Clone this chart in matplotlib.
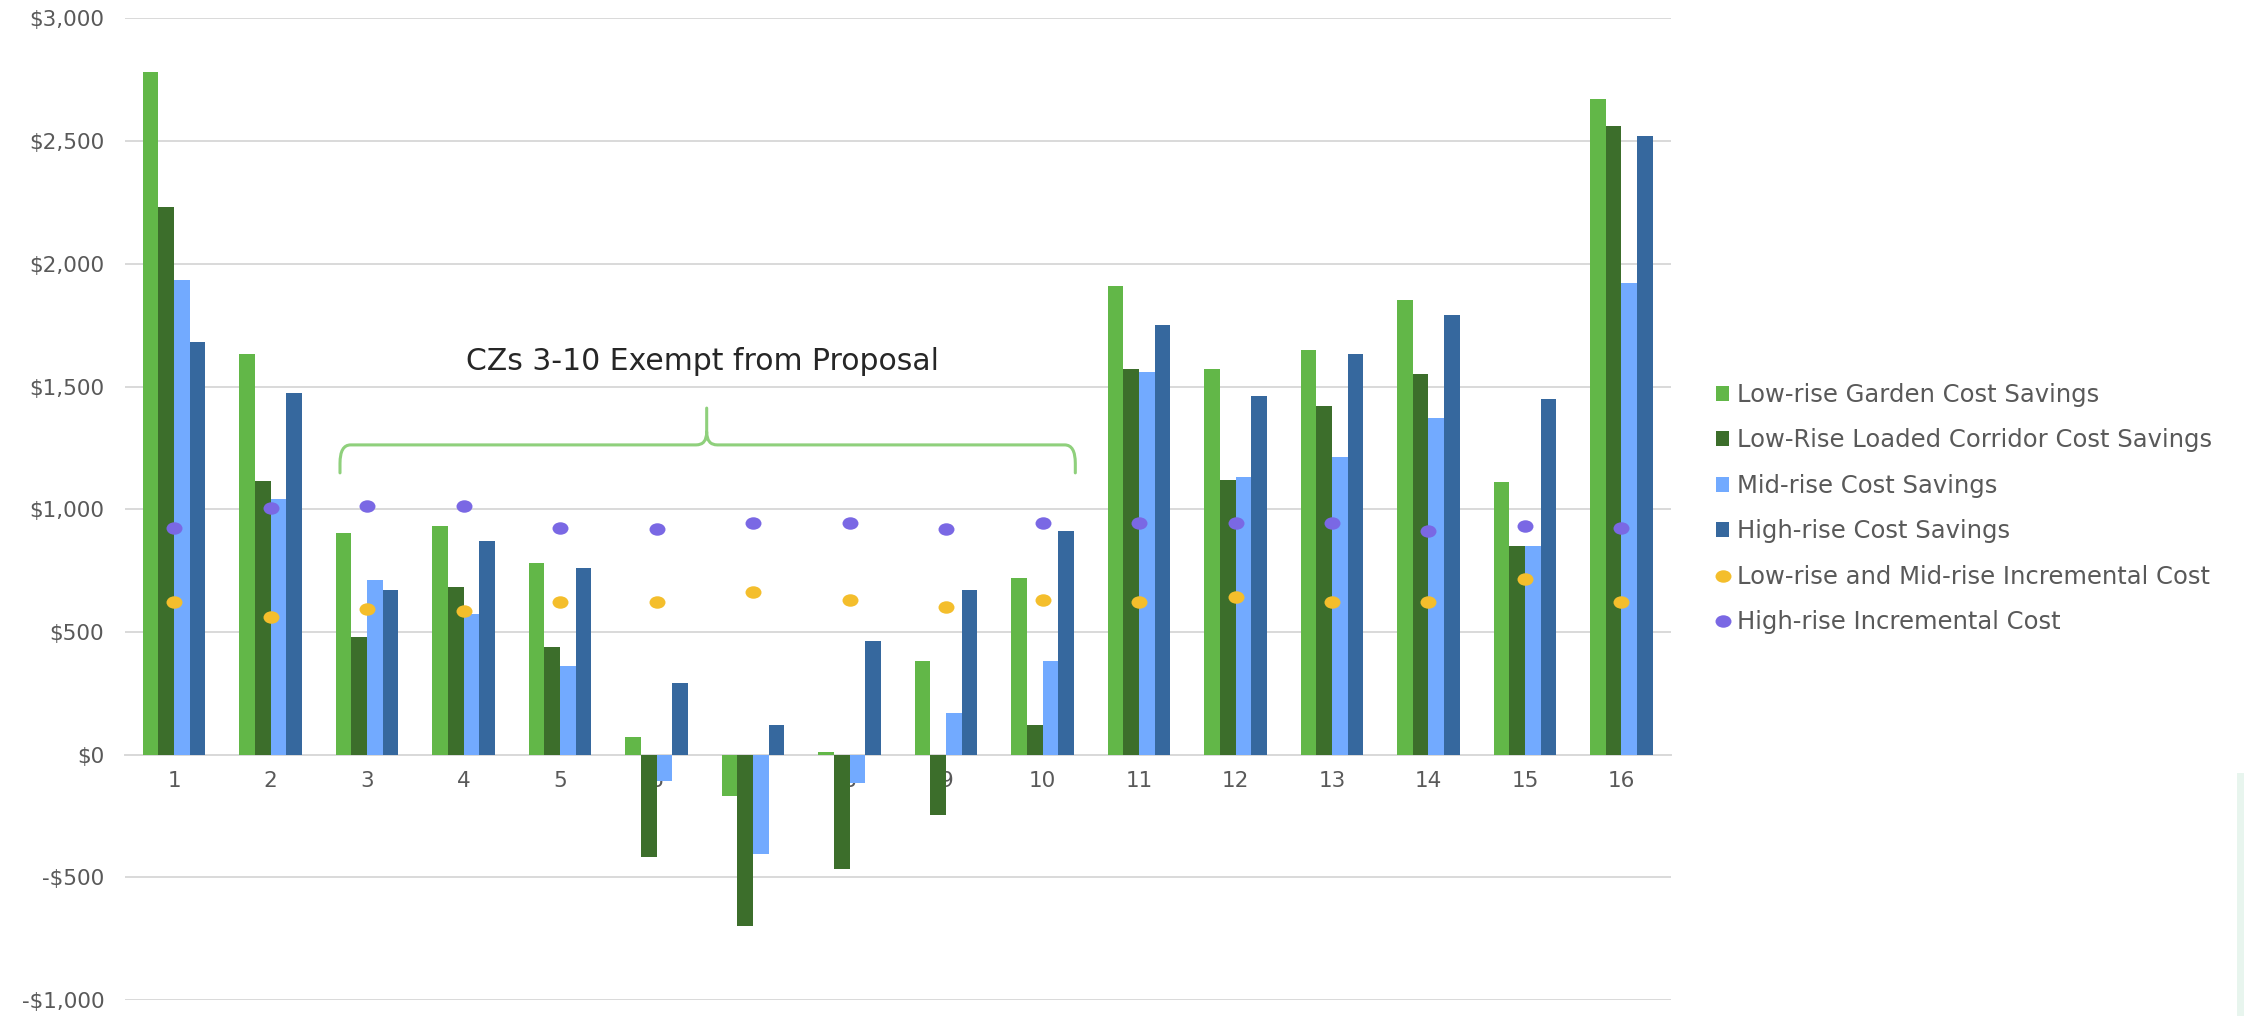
import matplotlib
matplotlib.use("Agg")
import matplotlib.pyplot as plt
import numpy as np
from matplotlib.patches import Patch, PathPatch, Rectangle
from matplotlib.lines import Line2D
from matplotlib.path import Path

# ---------------- data ----------------
climate_zones = ["1", "2", "3", "4", "5", "6", "7", "8", "9", "10", "11", "12", "13", "14", "15", "16"]
lowrise_garden = [2780, 1632, 902, 932, 780, 72, -167, 11, 382, 720, 1909, 1571, 1650, 1851, 1111, 2670]
lowrise_corridor = [2232, 1113, 480, 681, 440, -418, -699, -467, -248, 121, 1571, 1121, 1421, 1551, 851, 2560]
midrise = [1932, 1042, 711, 572, 361, -107, -407, -117, 170, 382, 1561, 1131, 1212, 1372, 851, 1920]
highrise = [1682, 1472, 671, 872, 762, 292, 121, 461, 671, 912, 1751, 1461, 1632, 1792, 1451, 2522]
low_mid_incremental = [622, 561, 594, 584, 622, 621, 662, 631, 602, 631, 622, 643, 622, 622, 714, 622]
high_incremental = [922, 1003, 1013, 1013, 922, 921, 942, 942, 921, 942, 943, 943, 943, 912, 932, 922]

bar_series = [
    ("Low-rise Garden Cost Savings", lowrise_garden, "#62B748"),
    ("Low-Rise Loaded Corridor Cost Savings", lowrise_corridor, "#3C6E2B"),
    ("Mid-rise Cost Savings", midrise, "#72AAFF"),
    ("High-rise Cost Savings", highrise, "#36689E"),
]
dot_series = [
    ("Low-rise and Mid-rise Incremental Cost", low_mid_incremental, "#F4BE2C"),
    ("High-rise Incremental Cost", high_incremental, "#7A68E4"),
]
y_ticks = [-1000, -500, 0, 500, 1000, 1500, 2000, 2500, 3000]
annotation_text = "CZs 3-10 Exempt from Proposal"

# ---------------- figure ----------------
W, H = 2244, 1016
fig = plt.figure(figsize=(W / 100, H / 100), dpi=100)
fig.patch.set_facecolor("white")
ax = fig.add_axes([125 / W, 1 - 1000 / H, (1671 - 125) / W, (1000 - 18.4) / H])

x = np.arange(len(climate_zones))
bw = 0.163
for k, (label, vals, col) in enumerate(bar_series):
    ax.bar(x + (k - 1.5) * bw, vals, width=bw, color=col, label=label, zorder=2, linewidth=0)

# elliptical dot marker (slightly wider than tall, as in reference)
circ = Path.unit_circle()
ell = Path(circ.vertices * np.array([1.0, 0.78]), circ.codes)
for label, vals, col in dot_series:
    ax.plot(x, vals, linestyle="none", marker=ell, markersize=11.5, color=col,
            markeredgewidth=0, zorder=3, label=label)

ax.set_xlim(-0.508, 15.513)
ax.set_ylim(-1000, 3000)
ax.set_yticks(y_ticks)
ax.set_yticklabels([("-$" if v < 0 else "$") + f"{abs(v):,}" for v in y_ticks])
ax.set_xticks(x)
ax.set_xticklabels(climate_zones)
for s in ["top", "right", "left"]:
    ax.spines[s].set_visible(False)
ax.spines["bottom"].set_position(("data", 0))
ax.spines["bottom"].set_color("#D9D9D9")
ax.spines["bottom"].set_linewidth(1.4)
ax.spines["bottom"].set_zorder(1.5)
ax.yaxis.grid(True, color="#D9D9D9", linewidth=1.4)
ax.set_axisbelow(True)
ax.tick_params(axis="both", length=0, labelsize=15.5, labelcolor="#595959")
ax.tick_params(axis="y", pad=15)
ax.tick_params(axis="x", pad=12)

# brace annotation
xl, xm, xr = 1.72, 5.52, 9.34
yh, ye, yt = 1262, 1148, 1412
dx, dy = 0.11, 75
verts = [
    (xl, ye), (xl, yh - dy), (xl, yh), (xl + dx, yh),
    (xm - dx, yh), (xm, yh), (xm, yh + dy * 0.7), (xm, yt),
    (xm, yh + dy * 0.7), (xm, yh), (xm + dx, yh),
    (xr - dx, yh), (xr, yh), (xr, yh - dy), (xr, ye),
]
codes = [
    Path.MOVETO, Path.LINETO, Path.CURVE3, Path.CURVE3,
    Path.LINETO, Path.CURVE3, Path.CURVE3, Path.LINETO,
    Path.MOVETO, Path.CURVE3, Path.CURVE3,
    Path.LINETO, Path.CURVE3, Path.CURVE3, Path.LINETO,
]
ax.add_patch(PathPatch(Path(verts, codes), facecolor="none", edgecolor="#8FD07C",
                       linewidth=2.2, zorder=4, capstyle="round"))
ax.text(5.48, 1567, annotation_text, ha="center", va="baseline",
        fontsize=21.5, color="#262626", zorder=5)

# legend
handles = [Patch(facecolor=c, edgecolor="none", label=l) for l, _, c in bar_series]
handles += [Line2D([], [], linestyle="none", marker=ell, markersize=11.5, color=c,
                   markeredgewidth=0, label=l) for l, _, c in dot_series]
leg = fig.legend(handles=handles, loc="upper left",
                 bbox_to_anchor=(1716 / W, 1 - 383 / H), bbox_transform=fig.transFigure,
                 frameon=False, fontsize=17.5, labelcolor="#595959",
                 handlelength=0.55, handleheight=0.55, handletextpad=0.3,
                 labelspacing=0.88, borderpad=0, borderaxespad=0)

# faint tint strip at the right edge
fig.patches.append(Rectangle((2237 / W, 0), 7 / W, 1 - 773 / H, transform=fig.transFigure,
                             facecolor="#E8F5EE", edgecolor="none", zorder=0))

fig.savefig("out.png", dpi=100, facecolor="white")
